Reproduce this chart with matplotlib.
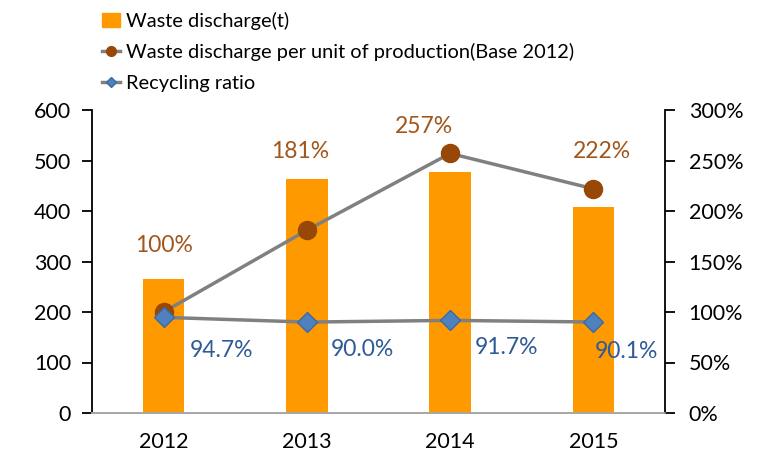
import matplotlib.pyplot as plt
from matplotlib.lines import Line2D
from matplotlib.patches import Patch

plt.rcParams['font.family'] = ['Lato', 'DejaVu Sans']

# Data
years = ['2012', '2013', '2014', '2015']
discharge = [265, 463, 477, 408]               # Waste discharge (t)
per_unit = [100, 181, 257, 222]                # % of 2012 level
recycling = [94.7, 90.0, 91.7, 90.1]           # %

# label offsets in pixels (dx, dy) relative to the marker
per_unit_off = [(0, 67), (-7, 79), (-26, 27), (9, 37)]
recycling_off = [(58, -33), (55, -27), (56, -27), (33, -30)]

orange = '#FF9900'
brown = '#974806'
brown_txt = '#A0561C'
blue = '#4F81BD'
blue_txt = '#2E5A96'
gray = '#808080'

fig = plt.figure(figsize=(7.66, 4.63), dpi=100)
ax = fig.add_axes([92 / 766, 50 / 463, 573 / 766, 303 / 463])
ax2 = ax.twinx()

x = range(len(years))
ax.bar(x, discharge, width=0.29, color=orange, zorder=1)
ax.set_xlim(-0.5, len(years) - 0.5)
ax.set_ylim(0, 600)
ax.set_yticks(range(0, 601, 100))
ax.set_xticks(list(x))
ax.set_xticklabels(years)

ax2.set_ylim(0, 300)
ax2.set_yticks(range(0, 301, 50))
ax2.set_yticklabels([f'{v}%' for v in range(0, 301, 50)])

ax2.plot(x, per_unit, color=gray, lw=2.5, marker='o', ms=13,
         mfc=brown, mec=brown, zorder=3)
ax2.plot(x, recycling, color=gray, lw=2.5, marker='D', ms=10,
         mfc=blue, mec='#3A6AA5', zorder=4)

for i, v in enumerate(per_unit):
    dx, dy = per_unit_off[i]
    ax2.annotate(f'{v}%', (i, v), xytext=(dx * 0.72, dy * 0.72),
                 textcoords='offset points', ha='center', va='center',
                 fontsize=16.5, color=brown_txt)
for i, v in enumerate(recycling):
    dx, dy = recycling_off[i]
    ax2.annotate(f'{v:.1f}%', (i, v), xytext=(dx * 0.72, dy * 0.72),
                 textcoords='offset points', ha='center', va='center',
                 fontsize=16.5, color=blue_txt)

for a in (ax, ax2):
    a.spines['top'].set_visible(False)
    a.spines['bottom'].set_color('#A6A6A6')
    a.spines['bottom'].set_linewidth(1.2)
ax.spines['right'].set_visible(False)
ax2.spines['left'].set_visible(False)
ax.spines['left'].set_linewidth(1.3)
ax2.spines['right'].set_linewidth(1.3)

ax.tick_params(axis='y', direction='out', length=7, width=1.3, labelsize=15.5, pad=8)
ax2.tick_params(axis='y', direction='out', length=7, width=1.3, labelsize=15.5, pad=10)
ax.tick_params(axis='x', length=0, labelsize=15.5, pad=14)

handles = [
    Patch(color=orange),
    Line2D([], [], color=gray, lw=2.5, marker='o', ms=7, mfc=brown, mec=brown),
    Line2D([], [], color=gray, lw=2.5, marker='D', ms=5, mfc=blue, mec='#3A6AA5'),
]
labels = ['Waste discharge(t)',
          'Waste discharge per unit of production(Base 2012)',
          'Recycling ratio']
fig.legend(handles, labels, loc='upper left', bbox_to_anchor=(88 / 766, 1.005),
           frameon=False, fontsize=14.4, handlelength=0.9, handletextpad=0.28,
           labelspacing=0.68, borderaxespad=0.3)

fig.savefig('out.png', dpi=100)
